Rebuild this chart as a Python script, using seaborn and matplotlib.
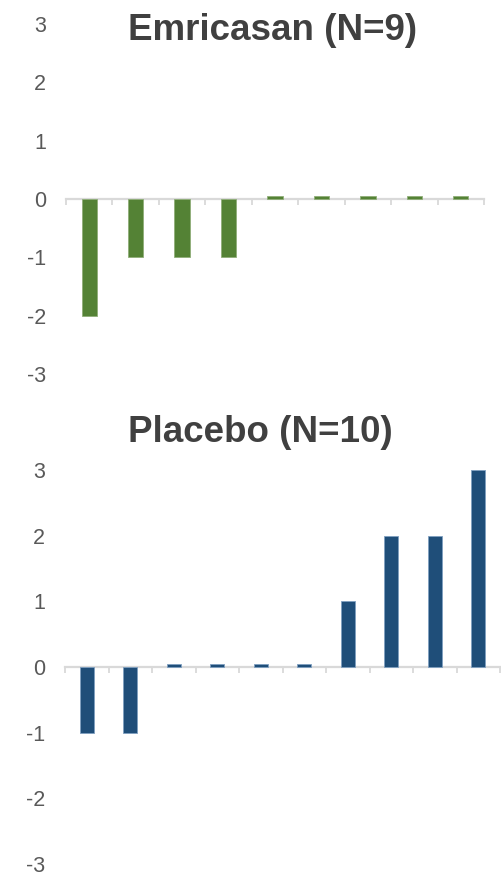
import numpy as np
import pandas as pd
import matplotlib
matplotlib.use("Agg")
import matplotlib.pyplot as plt
import seaborn as sns

# Change in score per patient, sorted, for each arm
emricasan_change = [-2, -1, -1, -1, 0, 0, 0, 0, 0]
placebo_change = [-1, -1, 0, 0, 0, 0, 1, 2, 2, 3]

emricasan_title = "Emricasan (N=9)"
placebo_title = "Placebo (N=10)"

y_ticks = [-3, -2, -1, 0, 1, 2, 3]
y_ticklabels = ["-3", "-2", "-1", "0", "1", "2", "3"]

green = "#548235"
blue = "#1F4E79"
axis_gray = "#D9D9D9"
label_gray = "#595959"
title_gray = "#404040"

# zero values are shown as a thin stub so each patient is visible
ZERO_STUB = 0.05

sns.set_theme(style="white")
plt.rcParams["font.family"] = ["Liberation Sans", "DejaVu Sans"]
plt.rcParams["axes.unicode_minus"] = False

W, H = 501, 876
fig = plt.figure(figsize=(W / 100, H / 100), dpi=100)


def panel(rect, values, color, edge):
    ax = fig.add_axes(rect)
    df = pd.DataFrame({
        "patient": [str(i + 1) for i in range(len(values))],
        "change": [v if v != 0 else ZERO_STUB for v in values],
    })
    sns.barplot(data=df, x="patient", y="change", color=color, saturation=1,
                width=0.33, edgecolor=edge, linewidth=0.6, ax=ax, zorder=3)
    n = len(values)
    ax.set_xlim(-0.5, n - 0.5)
    ax.set_ylim(-3, 3)
    ax.set_xlabel("")
    ax.set_ylabel("")
    for s in ["top", "right", "left"]:
        ax.spines[s].set_visible(False)
    ax.spines["bottom"].set_position(("data", 0))
    ax.spines["bottom"].set_color(axis_gray)
    ax.spines["bottom"].set_linewidth(1.6)
    ax.spines["bottom"].set_zorder(2)
    ax.set_xticks([])
    ax.set_xticks(np.arange(-0.5, n, 1.0), minor=True)
    ax.tick_params(axis="x", which="minor", direction="out", length=4,
                   width=1.3, color=axis_gray, labelbottom=False, bottom=True)
    ax.set_yticks(y_ticks)
    ax.set_yticklabels(y_ticklabels)
    ax.tick_params(axis="y", length=0, pad=14.5, labelsize=15.5,
                   labelcolor=label_gray)
    ax.grid(False)
    ax.patch.set_alpha(0)
    return ax


top = panel([66 / W, 1 - 374 / H, 418 / W, 350 / H], emricasan_change,
            green, "#8fae78")
bottom = panel([65 / W, 1 - 864 / H, 435 / W, 394 / H], placebo_change,
               blue, "#7f9fc0")

fig.text(273 / W, 1 - 30 / H, emricasan_title, ha="center", va="center",
         fontsize=26.5, fontweight="bold", color=title_gray)
fig.text(260 / W, 1 - 432 / H, placebo_title, ha="center", va="center",
         fontsize=26.5, fontweight="bold", color=title_gray)

fig.savefig("out.png", dpi=100, facecolor="white")
